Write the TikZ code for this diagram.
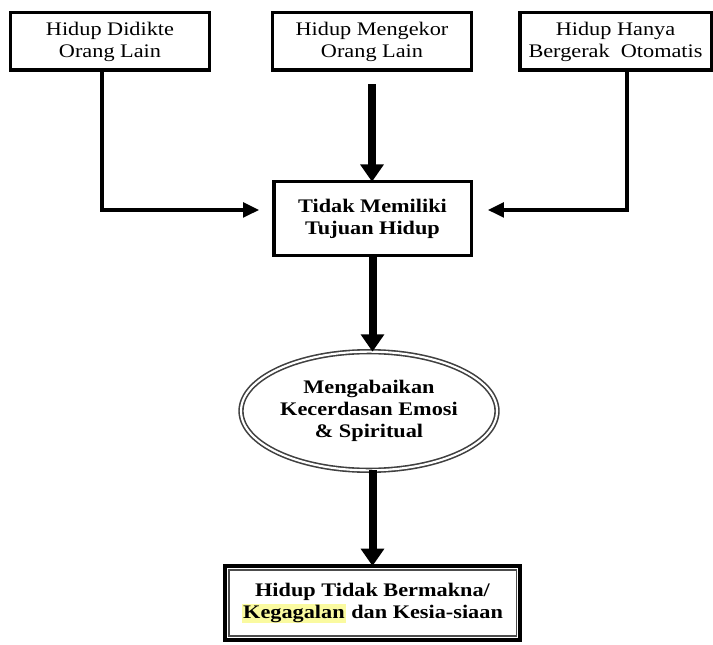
\documentclass[tikz,border=0pt]{standalone}
\usepackage{fontspec}
\setmainfont{Liberation Serif}[FakeStretch=1.16]
\usetikzlibrary{shapes, positioning, calc, arrows.meta}
\definecolor{markyellow}{RGB}{250,250,160}
\setlength{\fboxsep}{0.8pt}

\begin{document}
\begin{tikzpicture}[x=0.75pt, y=-0.75pt]
  \newcommand\boxlinewidth{2.6pt} % 3pt for the last box
  \newcommand\sidearrowwidth{2.4pt}
  \newcommand\mainarrowwidth{6pt}
  \newcommand\topboxheight{43.1pt}

  \tikzset{generaltext/.style={font=\fontsize{14.4pt}{16.5pt}\selectfont, align=center, inner sep=0pt, outer sep=0pt}}
  \tikzset{boldtext/.style={generaltext, font=\fontsize{14.4pt}{16.5pt}\selectfont\bfseries}}
  \tikzset{topbox/.style={generaltext, draw, line width=\boxlinewidth, minimum height=\topboxheight}}
  \tikzset{middlebox/.style={boldtext, draw, line width=\boxlinewidth}}
  \tikzset{ringellipse/.style={boldtext, ellipse, draw=black!75, line width=1.2pt, double, double distance=1.6pt}}
  \tikzset{framebox/.style={boldtext, draw, line width=3pt}}
  \tikzset{sidearrow/.style={line width=\sidearrowwidth, -{Triangle[length=12pt, width=11pt]}}}
  \tikzset{mainarrow/.style={line width=\mainarrowwidth, -{Triangle[length=13pt, width=17pt]}}}

  \useasboundingbox (0, 0) rectangle (713, 645);

  \node[topbox, minimum width=148.9pt] at (110, 41.5) (didikte) {Hidup Didikte\\Orang Lain};
  \node[topbox, minimum width=148.9pt] at (372, 41.5) (mengekor) {Hidup Mengekor\\Orang Lain};
  \node[topbox, minimum width=143.6pt] at (615.5, 41.5) (otomatis) {Hidup Hanya\\Bergerak~ Otomatis};

  \node[middlebox, minimum width=148.1pt, minimum height=55.1pt] at (372.5, 218.5) (tujuan) {Tidak Memiliki\\Tujuan Hidup};
  \node[ringellipse, minimum width=192pt, minimum height=89pt] at (369, 411) (emosi) {Mengabaikan\\Kecerdasan Emosi\\\& Spiritual};
  \node[framebox, minimum width=221.3pt, minimum height=55.5pt] at (372.5, 603) (gagal) {Hidup Tidak Bermakna/\\\colorbox{markyellow}{Kegagalan} dan Kesia-siaan};
  \draw[line width=1pt, black!70] ([shift={(2.9pt,-2.9pt)}]gagal.north west) rectangle ([shift={(-2.9pt,2.9pt)}]gagal.south east);

  \coordinate[below=10.5pt of mengekor] (mengekorgap);

  \draw[mainarrow] (mengekorgap) -- (mengekorgap |- tujuan.north);
  \draw[mainarrow] (tujuan.south) -- (tujuan.south |- emosi.north);
  \draw[mainarrow] (tujuan.south |- emosi.south) -- (tujuan.south |- gagal.north);

  \draw[sidearrow] ([xshift=-6pt]didikte.south) |- ([xshift=-11pt, yshift=6.4pt]tujuan.west);
  \draw[sidearrow] ([xshift=8.6pt]otomatis.south) |- ([xshift=12.5pt, yshift=6.4pt]tujuan.east);
\end{tikzpicture}
\end{document}
